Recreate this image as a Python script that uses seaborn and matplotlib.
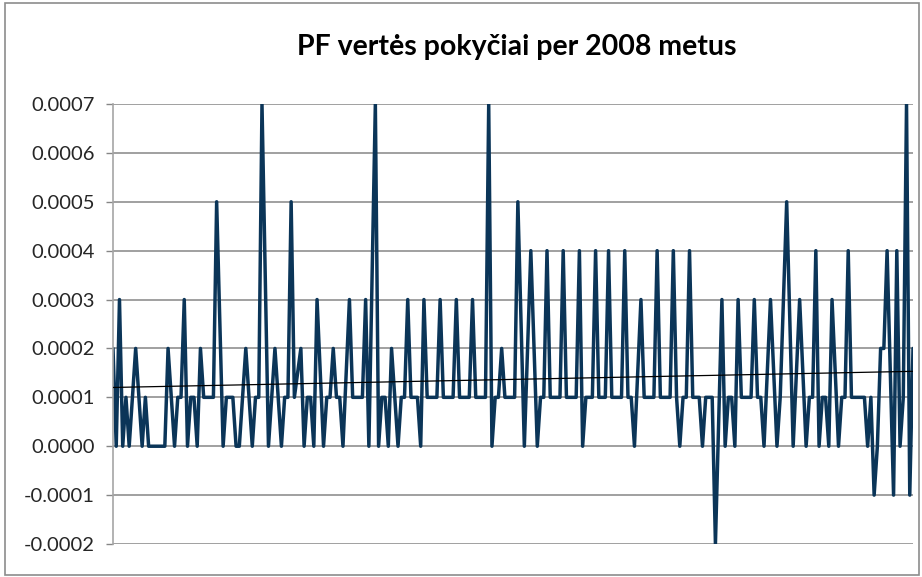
import numpy as np
import pandas as pd
import matplotlib
matplotlib.use("Agg")
import matplotlib.pyplot as plt
from matplotlib.patches import Rectangle
import seaborn as sns

# PF vertės pokyčiai (dienos), 2008 m.
pokyciai = [
    0.0002, 0.0, 0.0003, 0.0, 0.0001, 0.0, 0.0001, 0.0002, 0.0001, 0.0,
    0.0001, 0.0, 0.0, 0.0, 0.0, 0.0, 0.0, 0.0002, 0.0001, 0.0,
    0.0001, 0.0001, 0.0003, 0.0, 0.0001, 0.0001, 0.0, 0.0002, 0.0001, 0.0001,
    0.0001, 0.0001, 0.0005, 0.00025, 0.0, 0.0001, 0.0001, 0.0001, 0.0, 0.0,
    0.0001, 0.0002, 0.0001, 0.0, 0.0001, 0.0001, 0.0007, 0.00035, 0.0, 0.0001,
    0.0002, 0.0001, 0.0, 0.0001, 0.0001, 0.0005, 0.0001, 0.00015, 0.0002, 0.0,
    0.0001, 0.0001, 0.0, 0.0003, 0.00015, 0.0, 0.0001, 0.0001, 0.0002, 0.0001,
    0.0001, 0.0, 0.00015, 0.0003, 0.0001, 0.0001, 0.0001, 0.0001, 0.0003, 0.0,
    0.00035, 0.0007, 0.0, 0.0001, 0.0001, 0.0, 0.0002, 0.0001, 0.0, 0.0001,
    0.0001, 0.0003, 0.0001, 0.0001, 0.0001, 0.0, 0.0003, 0.0001, 0.0001, 0.0001,
    0.0001, 0.0003, 0.0001, 0.0001, 0.0001, 0.0001, 0.0003, 0.0001, 0.0001, 0.0001,
    0.0001, 0.0003, 0.0001, 0.0001, 0.0001, 0.0001, 0.0007, 0.0, 0.0001, 0.0001,
    0.0002, 0.0001, 0.0001, 0.0001, 0.0001, 0.0005, 0.00025, 0.0, 0.0002, 0.0004,
    0.0002, 0.0, 0.0001, 0.0001, 0.0004, 0.0001, 0.0001, 0.0001, 0.0001, 0.0004,
    0.0001, 0.0001, 0.0001, 0.0001, 0.0004, 0.0, 0.0001, 0.0001, 0.0001, 0.0004,
    0.0001, 0.0001, 0.0001, 0.0004, 0.0001, 0.0001, 0.0001, 0.0001, 0.0004, 0.0001,
    0.0001, 0.0, 0.00015, 0.0003, 0.0001, 0.0001, 0.0001, 0.0001, 0.0004, 0.0001,
    0.0001, 0.0001, 0.0001, 0.0004, 0.0001, 0.0, 0.0001, 0.0001, 0.0004, 0.0001,
    0.0001, 0.0001, 0.0, 0.0001, 0.0001, 0.0001, -0.0002, 0.00005, 0.0003, 0.0,
    0.0001, 0.0001, 0.0, 0.0003, 0.0001, 0.0001, 0.0001, 0.0001, 0.0003, 0.0001,
    0.0001, 0.0, 0.00015, 0.0003, 0.00015, 0.0, 0.0001, 0.0003, 0.0005, 0.00025,
    0.0, 0.00015, 0.0003, 0.00015, 0.0, 0.0001, 0.0001, 0.0004, 0.0, 0.0001,
    0.0001, 0.0, 0.0003, 0.00015, 0.0, 0.0001, 0.0001, 0.0004, 0.0001, 0.0001,
    0.0001, 0.0001, 0.0001, 0.0, 0.0001, -0.0001, 0.0, 0.0002, 0.0002, 0.0004,
    0.00015, -0.0001, 0.0004, 0.0, 0.0001, 0.0007, -0.0001, 0.0002,
]
y_ticks = [-0.0002, -0.0001, 0.0, 0.0001, 0.0002, 0.0003, 0.0004, 0.0005, 0.0006, 0.0007]
pavadinimas = "PF vertės pokyčiai per 2008 metus"

df = pd.DataFrame({"diena": np.arange(len(pokyciai)), "pokytis": pokyciai})

sns.set_style("white")
plt.rcParams['font.family'] = ['Lato', 'DejaVu Sans']

fig = plt.figure(figsize=(9.22, 5.77), dpi=100)
ax = fig.add_axes([113 / 922, 1 - 544 / 577, 800 / 922, 440 / 577])

# tinklelis
for v in y_ticks:
    ax.axhline(v, color="#868686", lw=1.1, zorder=0)

sns.lineplot(data=df, x="diena", y="pokytis", ax=ax, color="#0b3558", lw=2.5, zorder=2)
# tiesinis trendas
sns.regplot(data=df, x="diena", y="pokytis", ax=ax, scatter=False, ci=None,
            truncate=True, line_kws={"color": "black", "lw": 0.9, "zorder": 3})

ax.set_xlim(0, len(pokyciai) - 1)
ax.set_ylim(-0.0002, 0.0007)
ax.set_yticks(y_ticks)
ax.set_yticklabels([f"{v:.4f}" for v in y_ticks], fontsize=14.5, color="#262626")
ax.set_xticks([])
ax.set_xlabel("")
ax.set_ylabel("")
ax.tick_params(axis="y", length=5, width=1, color="#868686", pad=8, left=True)
for s in ["top", "right", "bottom"]:
    ax.spines[s].set_visible(False)
ax.spines["left"].set_color("#a6a6a6")
ax.spines["left"].set_linewidth(1.2)

fig.text(0.56, 1 - 47 / 577, pavadinimas, ha="center", va="center",
         fontsize=20.5, fontweight="bold", color="black")

# rėmelis aplink diagramą
fig.patches.append(Rectangle((5 / 922, 2 / 577), 914 / 922, 572 / 577,
                             transform=fig.transFigure, fill=False,
                             edgecolor="#8c8c8c", lw=1.2))

plt.savefig("out.png", dpi=100)
